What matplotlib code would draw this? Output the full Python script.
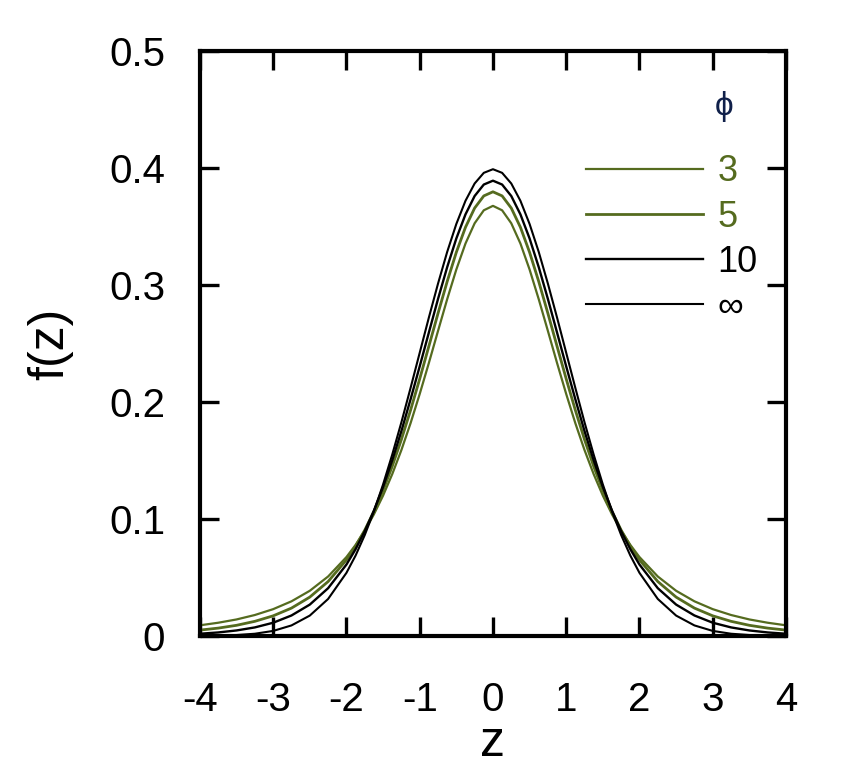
import numpy as np
import matplotlib.pyplot as plt

plt.rcParams['font.family'] = ['Liberation Sans', 'DejaVu Sans']

#### values ####
z = [-4.0, -3.75, -3.5, -3.25, -3.0, -2.75, -2.5, -2.25,
     -2.0, -1.875, -1.75, -1.625, -1.5, -1.375, -1.25, -1.125, -1.0, -0.875, -0.75, -0.625, -0.5, -0.375, -0.25, -0.125,
     0.0, 0.125, 0.25, 0.375, 0.5, 0.625, 0.75, 0.875, 1.0, 1.125, 1.25, 1.375, 1.5, 1.625, 1.75, 1.875, 2.0,
     2.25, 2.5, 2.75, 3.0, 3.25, 3.5, 3.75, 4.0]

f_3 = [0.0092, 0.0114, 0.0142, 0.0180, 0.0230, 0.0297, 0.0387, 0.0509,
       0.0675, 0.0779, 0.0900, 0.1040, 0.1200, 0.1383, 0.1589, 0.1818, 0.2068, 0.2333, 0.2607, 0.2878, 0.3132, 0.3354, 0.3527, 0.3638,
       0.3676, 0.3638, 0.3527, 0.3354, 0.3132, 0.2878, 0.2607, 0.2333, 0.2068, 0.1818, 0.1589, 0.1383, 0.1200, 0.1040, 0.0900, 0.0779, 0.0675,
       0.0509, 0.0387, 0.0297, 0.0230, 0.0180, 0.0142, 0.0114, 0.0092]
f_5 = [0.0051, 0.0068, 0.0092, 0.0126, 0.0173, 0.0239, 0.0333, 0.0466,
       0.0651, 0.0768, 0.0905, 0.1064, 0.1245, 0.1450, 0.1679, 0.1929, 0.2197, 0.2476, 0.2757, 0.3029, 0.3279, 0.3493, 0.3657, 0.3761,
       0.3796, 0.3761, 0.3657, 0.3493, 0.3279, 0.3029, 0.2757, 0.2476, 0.2197, 0.1929, 0.1679, 0.1450, 0.1245, 0.1064, 0.0905, 0.0768, 0.0651,
       0.0466, 0.0333, 0.0239, 0.0173, 0.0126, 0.0092, 0.0068, 0.0051]
f_10 = [0.0020, 0.0031, 0.0048, 0.0074, 0.0114, 0.0176, 0.0269, 0.0409,
        0.0611, 0.0742, 0.0896, 0.1072, 0.1274, 0.1501, 0.1751, 0.2022, 0.2304, 0.2593, 0.2880, 0.3152, 0.3397, 0.3603, 0.3760, 0.3858,
        0.3891, 0.3858, 0.3760, 0.3603, 0.3397, 0.3152, 0.2880, 0.2593, 0.2304, 0.2022, 0.1751, 0.1501, 0.1274, 0.1072, 0.0896, 0.0742, 0.0611,
        0.0409, 0.0269, 0.0176, 0.0114, 0.0074, 0.0048, 0.0031, 0.0020]
f_inf = [0.0001, 0.0004, 0.0009, 0.0020, 0.0044, 0.0091, 0.0175, 0.0317,
         0.0540, 0.0688, 0.0863, 0.1065, 0.1295, 0.1550, 0.1826, 0.2119, 0.2420, 0.2721, 0.3011, 0.3282, 0.3521, 0.3719, 0.3867, 0.3958,
         0.3989, 0.3958, 0.3867, 0.3719, 0.3521, 0.3282, 0.3011, 0.2721, 0.2420, 0.2119, 0.1826, 0.1550, 0.1295, 0.1065, 0.0863, 0.0688, 0.0540,
         0.0317, 0.0175, 0.0091, 0.0044, 0.0020, 0.0009, 0.0004, 0.0001]

labels = ['3', '5', '10', '\u221e']
x_ticks = [-4, -3, -2, -1, 0, 1, 2, 3, 4]
y_ticks = [0, 0.1, 0.2, 0.3, 0.4, 0.5]
y_tick_labels = ['0', '0.1', '0.2', '0.3', '0.4', '0.5']

green = '#556b1f'

fig = plt.figure(figsize=(8.47, 7.71), dpi=100)
ax = fig.add_axes([0.236, 0.175, 0.692, 0.759])

ax.plot(z, f_3, color=green, lw=1.6, label=labels[0])
ax.plot(z, f_5, color=green, lw=2.0, label=labels[1])
ax.plot(z, f_10, color='k', lw=1.7, label=labels[2])
ax.plot(z, f_inf, color='k', lw=1.5, label=labels[3])

ax.set_xlim(-4, 4)
ax.set_ylim(0, 0.5)
ax.set_xticks(x_ticks)
ax.set_xticklabels([str(t) for t in x_ticks])
ax.set_yticks(y_ticks)
ax.set_yticklabels(y_tick_labels)
ax.tick_params(direction='in', length=14, width=2.4, labelsize=29,
               top=True, right=True, pad=25)
ax.tick_params(axis='x', pad=32)
for s in ax.spines.values():
    s.set_linewidth(3)

ax.set_xlabel('z', fontsize=36, labelpad=1)
ax.set_ylabel('f(z)', fontsize=36, labelpad=26)

leg = ax.legend(loc='upper left', bbox_to_anchor=(0.659, 0.823), frameon=False,
                fontsize=26, handlelength=3.24, handletextpad=0.39,
                labelspacing=0.28, borderpad=0, borderaxespad=0)
for txt, c in zip(leg.get_texts(), [green, green, 'k', 'k']):
    txt.set_color(c)
ax.text(0.895, 0.905, '\u03d5', transform=ax.transAxes, fontsize=24,
        color='#10204a', ha='center', va='center')

fig.savefig('out.png', dpi=100)
